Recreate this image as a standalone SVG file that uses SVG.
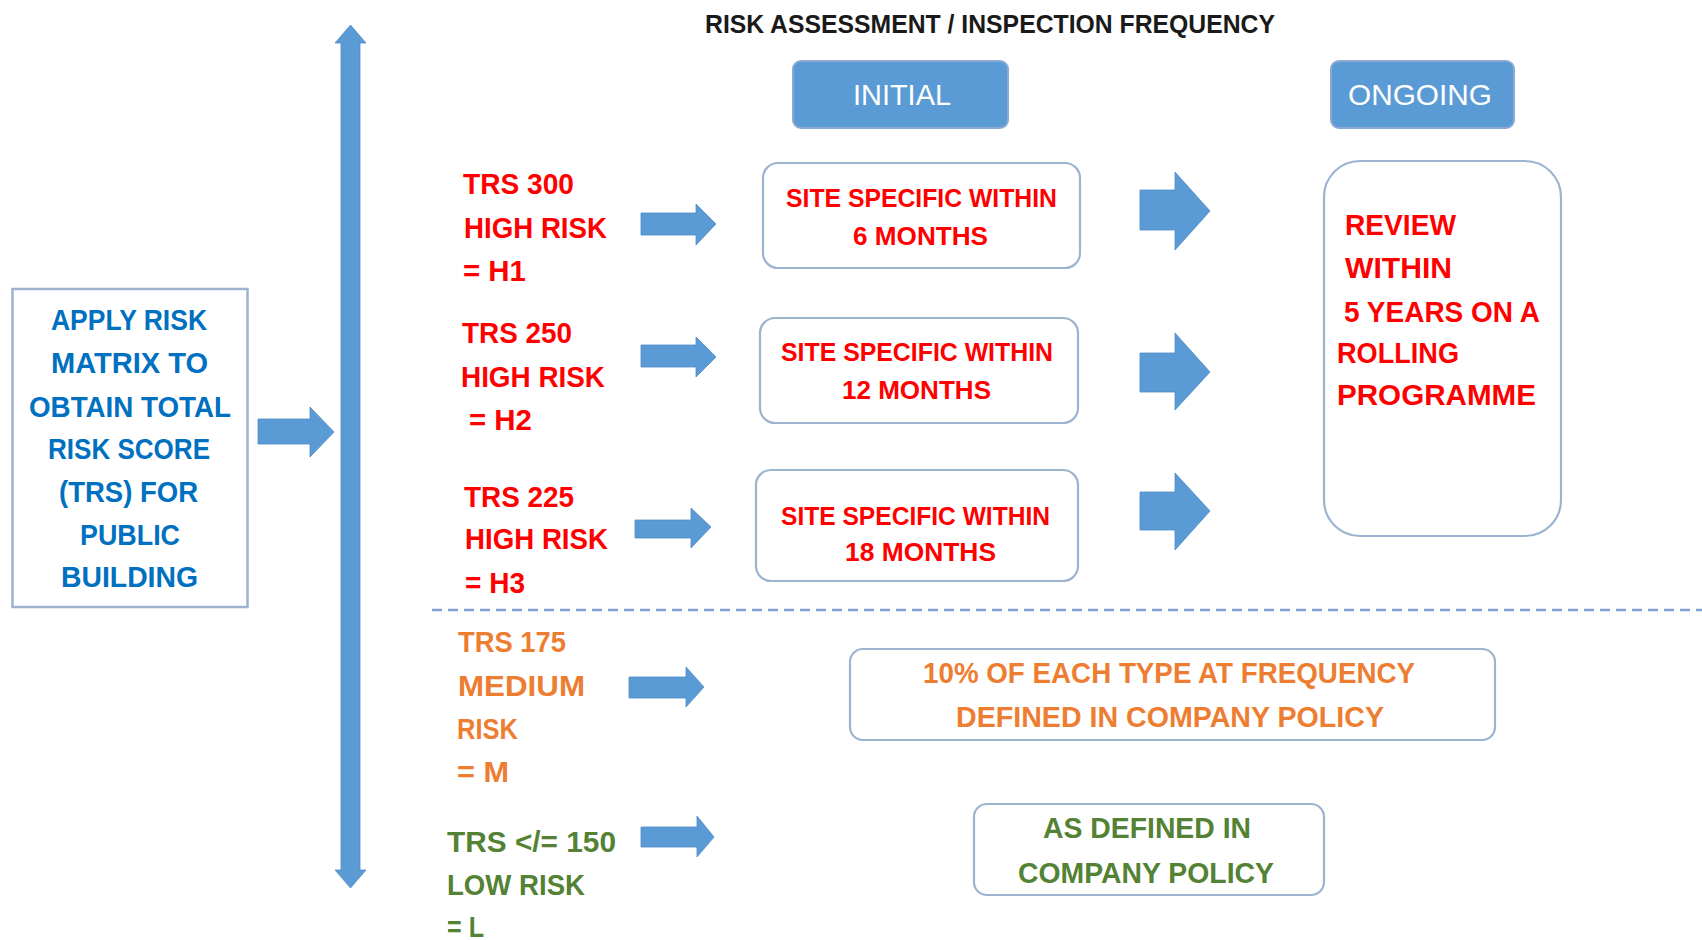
<svg xmlns="http://www.w3.org/2000/svg" width="1702" height="940" viewBox="0 0 1702 940">
<style>
text{font-family:"Liberation Sans",Arial,sans-serif;font-weight:bold}
.t{font-size:26px;fill:#1a1a1a}
.hd{font-size:30px;fill:#ffffff;font-weight:normal}
.bl{font-size:29px;fill:#0070C0}
.red{font-size:29px;fill:#FF0000}
.redb{font-size:26px;fill:#FF0000}
.or{font-size:29px;fill:#ED7D31}
.gr{font-size:29px;fill:#548235}
.box{fill:#ffffff;stroke:#9CB4D0;stroke-width:2.2}
.hbox{fill:#5B9BD5;stroke:#8AAAD2;stroke-width:2}
.arr{fill:#5B9BD5;stroke:#4F8CC6;stroke-width:0.8}
.dash{stroke:#7FA3D0;stroke-width:2.5;stroke-dasharray:10 6;fill:none}
</style>

<text class="t" x="705" y="33" textLength="570" lengthAdjust="spacingAndGlyphs">RISK ASSESSMENT / INSPECTION FREQUENCY</text>

<g id="connectors">
  <polygon class="arr" points="350.5,25 366,43 360,43 360,870 366,870 350.5,888 335,870 341,870 341,43 335,43"/>
  <polygon class="arr" points="258,419 310,419 310,407 334,432 310,457 310,444 258,444"/>
  <polygon class="arr" points="641,213 696,213 696,204 716,224 696,245 696,235 641,235"/>
  <polygon class="arr" points="641,345 696,345 696,337 716,357 696,377 696,367 641,367"/>
  <polygon class="arr" points="635,520 691,520 691,508 711,527 691,548 691,538 635,538"/>
  <polygon class="arr" points="1140,190 1175,190 1175,172 1210,211 1175,250 1175,230 1140,230"/>
  <polygon class="arr" points="1140,353 1175,353 1175,333 1210,372 1175,410 1175,392 1140,392"/>
  <polygon class="arr" points="1140,492 1175,492 1175,473 1210,511 1175,550 1175,530 1140,530"/>
  <polygon class="arr" points="629,677 686,677 686,667 704,687 686,707 686,698 629,698"/>
  <polygon class="arr" points="641,827 697,827 697,816 714,837 697,857 697,847 641,847"/>
  <line class="dash" x1="432" y1="610" x2="1702" y2="610"/>
</g>

<g id="node-apply">
  <rect x="12.5" y="289" width="235" height="318" fill="#ffffff" stroke="#9CB4D0" stroke-width="2.5"/>
  <text class="bl" x="51" y="330" textLength="156" lengthAdjust="spacingAndGlyphs">APPLY RISK</text>
  <text class="bl" x="51" y="373" textLength="157" lengthAdjust="spacingAndGlyphs">MATRIX TO</text>
  <text class="bl" x="29" y="417" textLength="202" lengthAdjust="spacingAndGlyphs">OBTAIN TOTAL</text>
  <text class="bl" x="48" y="459" textLength="162" lengthAdjust="spacingAndGlyphs">RISK SCORE</text>
  <text class="bl" x="59" y="502" textLength="139" lengthAdjust="spacingAndGlyphs">(TRS) FOR</text>
  <text class="bl" x="80" y="545" textLength="100" lengthAdjust="spacingAndGlyphs">PUBLIC</text>
  <text class="bl" x="61" y="587" textLength="137" lengthAdjust="spacingAndGlyphs">BUILDING</text>
</g>

<g id="node-initial">
  <rect class="hbox" x="793" y="61" width="215" height="67" rx="8"/>
  <text class="hd" x="853" y="105" textLength="98" lengthAdjust="spacingAndGlyphs">INITIAL</text>
</g>
<g id="node-ongoing">
  <rect class="hbox" x="1331" y="61" width="183" height="67" rx="8"/>
  <text class="hd" x="1348" y="105" textLength="144" lengthAdjust="spacingAndGlyphs">ONGOING</text>
</g>

<g id="node-h1-label">
  <text class="red" x="463" y="194" textLength="111" lengthAdjust="spacingAndGlyphs">TRS 300</text>
  <text class="red" x="464" y="238" textLength="143" lengthAdjust="spacingAndGlyphs">HIGH RISK</text>
  <text class="red" x="463" y="281" textLength="63" lengthAdjust="spacingAndGlyphs">= H1</text>
</g>
<g id="node-h2-label">
  <text class="red" x="462" y="343" textLength="110" lengthAdjust="spacingAndGlyphs">TRS 250</text>
  <text class="red" x="461" y="387" textLength="144" lengthAdjust="spacingAndGlyphs">HIGH RISK</text>
  <text class="red" x="469" y="430" textLength="63" lengthAdjust="spacingAndGlyphs">= H2</text>
</g>
<g id="node-h3-label">
  <text class="red" x="464" y="507" textLength="110" lengthAdjust="spacingAndGlyphs">TRS 225</text>
  <text class="red" x="465" y="549" textLength="143" lengthAdjust="spacingAndGlyphs">HIGH RISK</text>
  <text class="red" x="465" y="593" textLength="60" lengthAdjust="spacingAndGlyphs">= H3</text>
</g>

<g id="node-h1-box">
  <rect class="box" x="763" y="163" width="317" height="105" rx="15"/>
  <text class="redb" x="786" y="207" textLength="271" lengthAdjust="spacingAndGlyphs">SITE SPECIFIC WITHIN</text>
  <text class="redb" x="853" y="245" textLength="135" lengthAdjust="spacingAndGlyphs">6 MONTHS</text>
</g>
<g id="node-h2-box">
  <rect class="box" x="760" y="318" width="318" height="105" rx="15"/>
  <text class="redb" x="781" y="361" textLength="272" lengthAdjust="spacingAndGlyphs">SITE SPECIFIC WITHIN</text>
  <text class="redb" x="842" y="399" textLength="149" lengthAdjust="spacingAndGlyphs">12 MONTHS</text>
</g>
<g id="node-h3-box">
  <rect class="box" x="756" y="470" width="322" height="111" rx="15"/>
  <text class="redb" x="781" y="525" textLength="269" lengthAdjust="spacingAndGlyphs">SITE SPECIFIC WITHIN</text>
  <text class="redb" x="845" y="561" textLength="151" lengthAdjust="spacingAndGlyphs">18 MONTHS</text>
</g>

<g id="node-review">
  <rect class="box" x="1324" y="161" width="237" height="375" rx="36"/>
  <text class="red" x="1345" y="235" textLength="111" lengthAdjust="spacingAndGlyphs">REVIEW</text>
  <text class="red" x="1345" y="278" textLength="107" lengthAdjust="spacingAndGlyphs">WITHIN</text>
  <text class="red" x="1344" y="322" textLength="196" lengthAdjust="spacingAndGlyphs">5 YEARS ON A</text>
  <text class="red" x="1337" y="363" textLength="122" lengthAdjust="spacingAndGlyphs">ROLLING</text>
  <text class="red" x="1337" y="405" textLength="199" lengthAdjust="spacingAndGlyphs">PROGRAMME</text>
</g>

<g id="node-m-label">
  <text class="or" x="458" y="652" textLength="108" lengthAdjust="spacingAndGlyphs">TRS 175</text>
  <text class="or" x="458" y="696" textLength="127" lengthAdjust="spacingAndGlyphs">MEDIUM</text>
  <text class="or" x="457" y="739" textLength="61" lengthAdjust="spacingAndGlyphs">RISK</text>
  <text class="or" x="457" y="782" textLength="52" lengthAdjust="spacingAndGlyphs">= M</text>
</g>
<g id="node-m-box">
  <rect class="box" x="850" y="649" width="645" height="91" rx="13"/>
  <text class="or" x="923" y="683" textLength="492" lengthAdjust="spacingAndGlyphs">10% OF EACH TYPE AT FREQUENCY</text>
  <text class="or" x="956" y="727" textLength="428" lengthAdjust="spacingAndGlyphs">DEFINED IN COMPANY POLICY</text>
</g>

<g id="node-l-label">
  <text class="gr" x="447" y="852" textLength="169" lengthAdjust="spacingAndGlyphs">TRS &lt;/= 150</text>
  <text class="gr" x="447" y="895" textLength="138" lengthAdjust="spacingAndGlyphs">LOW RISK</text>
  <text class="gr" x="447" y="937" textLength="37" lengthAdjust="spacingAndGlyphs">= L</text>
</g>
<g id="node-l-box">
  <rect class="box" x="974" y="804" width="350" height="91" rx="13"/>
  <text class="gr" x="1043" y="838" textLength="208" lengthAdjust="spacingAndGlyphs">AS DEFINED IN</text>
  <text class="gr" x="1018" y="883" textLength="256" lengthAdjust="spacingAndGlyphs">COMPANY POLICY</text>
</g>
</svg>
